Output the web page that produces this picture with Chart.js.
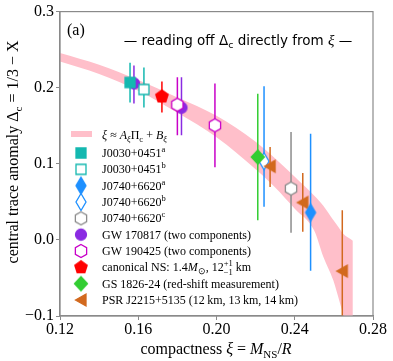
<!DOCTYPE html>
<html>
<head>
<meta charset="utf-8">
<script src="https://cdn.jsdelivr.net/npm/chart.js@4.4.0/dist/chart.umd.min.js"></script>
<style>
  html, body { margin: 0; padding: 0; background: #fff; }
  #wrap { width: 393px; height: 361px; }
</style>
</head>
<body>
<div id="wrap"><canvas id="chart" width="393" height="361"></canvas></div>
<script>
// ---- values ----
const xTicks = [0.12, 0.16, 0.20, 0.24, 0.28];
const yTicks = [-0.1, 0.0, 0.1, 0.2, 0.3];

// fit band  xi ~ A Pi_c + B  (upper / lower edge)
const bandX     = [0.12, 0.14, 0.16, 0.18, 0.20, 0.22, 0.23, 0.24, 0.25, 0.2546, 0.2597, 0.2631, 0.2648, 0.2697];
const bandUpper = [0.2455, 0.230, 0.210, 0.187, 0.163, 0.129, 0.107, 0.083, 0.058, 0.045, 0.026, 0.014, 0.008, -0.001];
const bandLower = [0.2345, 0.218, 0.196, 0.167, 0.135, 0.093, 0.069, 0.041, 0.012, -0.022, -0.053, -0.083, -0.099, -0.15];

const j0030aX = [0.1558], j0030aY = [0.2069], j0030aLo = [0.1807], j0030aHi = [0.2327];
const j0030bX = [0.1629], j0030bY = [0.1977], j0030bLo = [0.1741], j0030bHi = [0.2266];
const j0740aX = [0.2481], j0740aY = [0.0360], j0740aLo = [-0.0406], j0740aHi = [0.1396];
const j0740bX = [0.2243], j0740bY = [0.1033], j0740bLo = [0.0434], j0740bHi = [0.2020];
const j0740cX = [0.2381], j0740cY = [0.0675], j0740cLo = [0.0093], j0740cHi = [0.1417];
const gw170817X = [0.1578, 0.1821], gw170817Y = [0.2056, 0.1737], gw170817Lo = [0.1793, 0.1374], gw170817Hi = [0.2292, 0.2138];
const gw190425X = [0.1800, 0.1992], gw190425Y = [0.1776, 0.1505], gw190425Lo = [0.1374, 0.0954], gw190425Hi = [0.2138, 0.2056];
const canonX = [0.1721], canonY = [0.1885], canonLo = [0.1675], canonHi = [0.2082];
const gsX = [0.2211], gsY = [0.1089], gsLo = [0.0259], gsHi = [0.1920];
const psrX = [0.2274, 0.2441, 0.2643], psrY = [0.0967, 0.0491, -0.041], psrLo = [0.0696, 0.0106, -0.13], psrHi = [0.122, 0.088, 0.039];

// ---- styling ----
const SERIF = '"Liberation Serif", "Times New Roman", serif';
const SANS = '"DejaVu Sans", sans-serif';
const font = (size, style) => (style ? style + ' ' : '') + size + 'px ' + SERIF;

const PINK = '#ffbfca';
const TEAL = '#14b8b0';
const BLUE = '#1e90ff';
const GREY = '#8c8c8c';
const PURPLE = '#8a2be2';
const MAGENTA = '#c800c8';
const RED = '#ff0000';
const GREEN = '#32cd32';
const ORANGE = '#d2691e';

// marker glyphs drawn once onto small canvases, used as pointStyle
function makeMarker(shape, fill, stroke) {
  const c = document.createElement('canvas');
  c.width = 22; c.height = 22;
  const g = c.getContext('2d');
  g.translate(11, 11);
  const poly = pts => { pts.forEach(([x, y], i) => i ? g.lineTo(x, y) : g.moveTo(x, y)); g.closePath(); };
  const ngon = (n, r) => poly(Array.from({ length: n }, (_, i) => {
    const a = -Math.PI / 2 + i * 2 * Math.PI / n;
    return [r * Math.cos(a), r * Math.sin(a)];
  }));
  g.beginPath();
  if (shape === 'square') g.rect(-5, -5, 10, 10);
  else if (shape === 'circle') g.arc(0, 0, 5.5, 0, Math.PI * 2);
  else if (shape === 'diamond') poly([[0, -7], [6.5, 0], [0, 7], [-6.5, 0]]);
  else if (shape === 'thin') poly([[0, -8.5], [5, 0], [0, 8.5], [-5, 0]]);
  else if (shape === 'hex') ngon(6, 6.5);
  else if (shape === 'pent') ngon(5, 6.5);
  else if (shape === 'left') poly([[-5.5, 0], [5, -6], [5, 6]]);
  g.fillStyle = fill;
  g.fill();
  g.lineWidth = 1.3;
  g.strokeStyle = stroke;
  g.stroke();
  return c;
}

const markers = {
  j0030a: makeMarker('square', TEAL, TEAL),
  j0030b: makeMarker('square', '#fff', TEAL),
  j0740a: makeMarker('thin', BLUE, BLUE),
  j0740b: makeMarker('thin', '#fff', BLUE),
  j0740c: makeMarker('hex', '#fff', GREY),
  gw170817: makeMarker('circle', PURPLE, PURPLE),
  gw190425: makeMarker('hex', '#fff', MAGENTA),
  canon: makeMarker('pent', RED, RED),
  gs: makeMarker('diamond', GREEN, GREEN),
  psr: makeMarker('left', ORANGE, ORANGE)
};

const pts = (xs, ys) => xs.map((x, i) => ({ x, y: ys[i] }));

function series(label, key, color, xs, ys, lo, hi, order) {
  return {
    label, data: pts(xs, ys), errLo: lo, errHi: hi, errColor: color,
    pointStyle: markers[key], pointRadius: 6, showLine: false, order
  };
}

// rich text: parts = [text, font, dy, advanceOverride]
function drawRich(ctx, parts, x, y, align) {
  let w = 0;
  parts.forEach(p => { ctx.font = p[1]; w += p[3] !== undefined ? p[3] : ctx.measureText(p[0]).width; });
  let cx = align === 'center' ? x - w / 2 : x;
  parts.forEach(p => {
    ctx.font = p[1];
    ctx.fillText(p[0], cx, y + (p[2] || 0));
    cx += p[3] !== undefined ? p[3] : ctx.measureText(p[0]).width;
  });
}

const r12 = font(12), i12 = font(12, 'italic'), r8 = font(8.5), i8 = font(8.5, 'italic');
const legendRows = [
  { key: 'j0030a', text: [['J0030+0451', r12], ['a', r8, -5]] },
  { key: 'j0030b', text: [['J0030+0451', r12], ['b', r8, -5]] },
  { key: 'j0740a', text: [['J0740+6620', r12], ['a', r8, -5]] },
  { key: 'j0740b', text: [['J0740+6620', r12], ['b', r8, -5]] },
  { key: 'j0740c', text: [['J0740+6620', r12], ['c', r8, -5]] },
  { key: 'gw170817', text: [['GW 170817 (two components)', r12]] },
  { key: 'gw190425', text: [['GW 190425 (two components)', r12]] },
  { key: 'canon', text: [['canonical NS: 1.4', r12], ['M', i12], ['\u2299', r8, 3], [', 12', r12], ['+1', r8, -5, 0], ['\u22121', r8, 3.5], [' km', r12]] },
  { key: 'gs', text: [['GS 1826-24 (red-shift measurement)', r12]] },
  { key: 'psr', text: [['PSR J2215+5135 (12\u2009km, 13\u2009km, 14\u2009km)', r12]] }
];

const decorations = {
  id: 'decorations',
  beforeDatasetDraw(chart, args) {
    const ds = chart.data.datasets[args.index];
    if (!ds.errLo) return;
    const { ctx, chartArea: a, scales: { x, y } } = chart;
    ctx.save();
    ctx.beginPath();
    ctx.rect(a.left, a.top, a.right - a.left, a.bottom - a.top);
    ctx.clip();
    ctx.strokeStyle = ds.errColor;
    ctx.lineWidth = 1.5;
    ds.data.forEach((p, i) => {
      const px = x.getPixelForValue(p.x);
      ctx.beginPath();
      ctx.moveTo(px, y.getPixelForValue(ds.errLo[i]));
      ctx.lineTo(px, y.getPixelForValue(ds.errHi[i]));
      ctx.stroke();
    });
    ctx.restore();
  },
  afterDraw(chart) {
    const { ctx, chartArea: a } = chart;
    ctx.save();
    // frame
    ctx.strokeStyle = '#8a8a8a';
    ctx.lineWidth = 1.2;
    ctx.strokeRect(a.left, a.top, a.right - a.left, a.bottom - a.top);

    ctx.fillStyle = '#000';
    ctx.textBaseline = 'alphabetic';
    // panel tag and heading
    ctx.font = font(16);
    ctx.fillText('(a)', 67, 35);
    const s13 = '13.5px ' + SANS, s9 = '9.5px ' + SANS;
    drawRich(ctx, [['\u2014 reading off \u0394', s13], ['c', s9, 3], [' directly from ', s13], ['\u03be', font(15, 'italic')], [' \u2014', s13]], 238, 45, 'center');

    // legend
    ctx.fillStyle = PINK;
    ctx.fillRect(71, 131, 21, 6);
    ctx.fillStyle = '#000';
    drawRich(ctx, [['\u03be', i12], [' \u2248 ', r12], ['A', i12], ['\u03be', i8, 3], ['\u03a0', r12], ['c', r8, 3], [' + ', r12], ['B', i12], ['\u03be', i8, 3]], 102, 139);
    legendRows.forEach((row, i) => {
      const cy = 153 + i * 16.33;
      const m = markers[row.key];
      ctx.drawImage(m, 81 - m.width / 2, cy - m.height / 2);
      drawRich(ctx, row.text, 102, cy + 4);
    });

    // axis titles
    const r16 = font(16), i16 = font(16, 'italic'), r11 = font(11);
    drawRich(ctx, [['compactness ', r16], ['\u03be', i16], [' = ', r16], ['M', i16], ['NS', r11, 4], ['/', r16], ['R', i16]], 216, 354, 'center');
    ctx.translate(18, 152);
    ctx.rotate(-Math.PI / 2);
    drawRich(ctx, [['central trace anomaly \u0394', r16], ['c', r11, 4], [' = 1/3 \u2212 X', r16]], 0, 0, 'center');
    ctx.restore();
  }
};

const tickFont = { family: SERIF, size: 16 };

new Chart(document.getElementById('chart'), {
  type: 'scatter',
  data: {
    datasets: [
      { label: 'band upper', data: pts(bandX, bandUpper), showLine: true, pointRadius: 0, borderWidth: 0,
        borderColor: 'transparent', backgroundColor: PINK, fill: '+1', cubicInterpolationMode: 'monotone', order: 100 },
      { label: 'band lower', data: pts(bandX, bandLower), showLine: true, pointRadius: 0, borderWidth: 0,
        borderColor: 'transparent', fill: false, cubicInterpolationMode: 'monotone', order: 99 },
      series('GW 170817', 'gw170817', PURPLE, gw170817X, gw170817Y, gw170817Lo, gw170817Hi, 90),
      series('J0030+0451b', 'j0030b', TEAL, j0030bX, j0030bY, j0030bLo, j0030bHi, 85),
      series('J0030+0451a', 'j0030a', TEAL, j0030aX, j0030aY, j0030aLo, j0030aHi, 84),
      series('canonical NS', 'canon', RED, canonX, canonY, canonLo, canonHi, 80),
      series('GW 190425', 'gw190425', MAGENTA, gw190425X, gw190425Y, gw190425Lo, gw190425Hi, 75),
      series('J0740+6620b', 'j0740b', BLUE, j0740bX, j0740bY, j0740bLo, j0740bHi, 70),
      series('GS 1826-24', 'gs', GREEN, gsX, gsY, gsLo, gsHi, 65),
      series('PSR J2215+5135', 'psr', ORANGE, psrX, psrY, psrLo, psrHi, 60),
      series('J0740+6620c', 'j0740c', GREY, j0740cX, j0740cY, j0740cLo, j0740cHi, 55),
      series('J0740+6620a', 'j0740a', BLUE, j0740aX, j0740aY, j0740aLo, j0740aHi, 50)
    ]
  },
  options: {
    responsive: false,
    devicePixelRatio: 1,
    animation: false,
    layout: { padding: { top: 11, right: 20, left: 0, bottom: 0 } },
    plugins: { legend: { display: false }, tooltip: { enabled: false } },
    scales: {
      x: {
        type: 'linear', min: 0.12, max: 0.28,
        afterBuildTicks: s => { s.ticks = xTicks.map(v => ({ value: v })); },
        afterFit: s => { s.height = 45; },
        grid: { drawOnChartArea: false, tickLength: 4, color: '#8a8a8a' },
        border: { display: true, color: '#8a8a8a', width: 1.2 },
        ticks: { font: tickFont, color: '#000', padding: 0, maxRotation: 0, callback: v => v.toFixed(2) }
      },
      y: {
        type: 'linear', min: -0.1, max: 0.3,
        afterBuildTicks: s => { s.ticks = yTicks.map(v => ({ value: v })); },
        afterFit: s => { s.width = 60; },
        grid: { drawOnChartArea: false, tickLength: 4, color: '#8a8a8a' },
        border: { display: true, color: '#8a8a8a', width: 1.2 },
        ticks: { font: tickFont, color: '#000', padding: 2,
          callback: v => (v < 0 ? '\u2212' : '') + Math.abs(v).toFixed(1) }
      }
    }
  },
  plugins: [decorations]
});
</script>
</body>
</html>
